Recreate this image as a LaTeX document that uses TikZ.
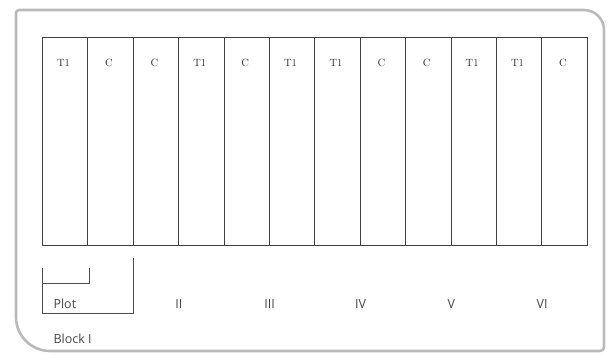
\documentclass[tikz,border=0pt]{standalone}
\usepackage{fontspec}
\newfontfamily\blockfont{Open Sans}
\usetikzlibrary{positioning,calc}

\begin{document}
\begin{tikzpicture}[x=1pt,y=-1pt,
    card/.style={draw=black!27, line width=2.6pt, fill=white},
    plotcol/.style={draw=black!75, line width=0.7pt, minimum width=45.4pt,
        minimum height=208pt, inner sep=0pt, anchor=north west},
    trt/.style={font=\fontsize{10.5}{13}\selectfont, text=black!80},
    blk/.style={font=\blockfont\fontsize{12.5}{14}\selectfont, text=black!72},
    bracket/.style={draw=black!70, line width=0.7pt}
]
\useasboundingbox (0,0) rectangle (612,354);

% the card
\draw[card] (16,200) [rounded corners=3pt] -- (16,10) [rounded corners=20pt] -- (604,10)
    [rounded corners=4pt] -- (604,351) [rounded corners=34pt] -- (16,351) -- cycle;

% plots
\foreach \lbl [count=\i] in {T1,C,C,T1,C,T1,T1,C,C,T1,T1,C} {
    \node[plotcol] (c\i) at ({42+(\i-1)*45.4},37) {};
    \node[trt, below=19pt, xshift=-1.5pt] (t\i) at (c\i.north) {\lbl};
}

% blocks
\foreach \j/\num in {3/II,5/III,7/IV,9/V,11/VI}
    \node[blk] (b\j) at ($(c\j.south east)+(0,58)$) {\num};

% plot and block brackets
\draw[bracket] ($(c1.south west)+(0,22)$) -- ($(c1.south west)+(0,68)$)
    -- ($(c2.south east)+(0,68)$) -- ($(c2.south east)+(0,12)$);
\draw[bracket] ($(c1.south west)+(0,38)$) -- ($(c1.south east)+(1,38)$)
    -- ($(c1.south east)+(1,22)$);
\node[blk, anchor=west] (plot) at ($(c1.south west)+(8,58)$) {Plot};
\node[blk, anchor=west] (block) at ($(c1.south west)+(8,93)$) {Block I};

\end{tikzpicture}
\end{document}
